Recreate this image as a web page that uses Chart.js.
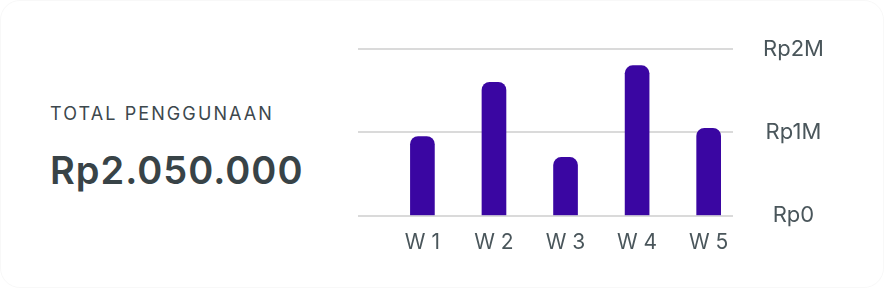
<!DOCTYPE html>
<html>
<head>
<meta charset="utf-8">
<script src="https://cdn.jsdelivr.net/npm/chart.js@4.4.1/dist/chart.umd.min.js"></script>
<style>
  html, body { margin: 0; padding: 0; background: #fff; }
  .card {
    position: relative;
    width: 882px;
    height: 286px;
    border: 1px solid #f8f8f8;
    border-radius: 20px;
    background: #fff;
    font-family: Inter, "Noto Sans", sans-serif;
    overflow: hidden;
  }
  .summary { position: absolute; left: 49px; top: 101px; color: #3d484d; }
  .summary .label { font-size: 18px; letter-spacing: 2.1px; line-height: 24px; }
  .summary .value { font-size: 38px; font-weight: 600; letter-spacing: 1px; line-height: 46px; margin-top: 21px; color: #384347; }
  canvas { position: absolute; left: 0; top: 0; }
</style>
</head>
<body>
<div class="card">
  <div class="summary">
    <div class="label">TOTAL PENGGUNAAN</div>
    <div class="value">Rp2.050.000</div>
  </div>
  <canvas id="usage-chart" width="882" height="286"></canvas>
</div>
<script>
// weekly usage (Rupiah)
const weekLabels = ["W 1", "W 2", "W 3", "W 4", "W 5"];
const weekValues = [950000, 1600000, 700000, 1800000, 1050000];
const yTicks = [0, 1000000, 2000000];

const textColor = "#4a565b";

const formatRp = (v) => (v === 0 ? "Rp0" : "Rp" + v / 1000000 + "M");

const ctx = document.getElementById("usage-chart").getContext("2d");
window.usageChart = new Chart(ctx, {
  type: "bar",
  data: {
    datasets: [
      {
        data: weekValues.map((v, i) => ({ x: i, y: v })),
        backgroundColor: "#3a06a2",
        barThickness: 24,
        borderRadius: 8,
        borderSkipped: "start",
      },
    ],
  },
  options: {
    responsive: false,
    animation: false,
    layout: { padding: { left: 357, top: 48, right: 50, bottom: 26 } },
    plugins: { legend: { display: false }, tooltip: { enabled: false } },
    scales: {
      x: {
        type: "linear",
        offset: false,
        min: -0.9,
        max: 4.34,
        grid: { display: false },
        border: { display: false },
        afterBuildTicks: (axis) => {
          axis.ticks = weekLabels.map((_, i) => ({ value: i }));
        },
        ticks: {
          color: textColor,
          padding: 6,
          font: { family: "Inter", size: 21 },
          callback: (v) => weekLabels[v],
        },
      },
      y: {
        position: "right",
        min: 0,
        max: 2000000,
        grid: { color: "#dadada", lineWidth: 2, drawTicks: false },
        border: { display: false },
        afterBuildTicks: (axis) => {
          axis.ticks = yTicks.map((v) => ({ value: v }));
        },
        afterFit: (axis) => {
          axis.width = 100;
        },
        ticks: {
          color: textColor,
          padding: 30,
          crossAlign: "center",
          font: { family: "Inter", size: 22 },
          callback: (v) => formatRp(v),
        },
      },
    },
  },
});
</script>
</body>
</html>
